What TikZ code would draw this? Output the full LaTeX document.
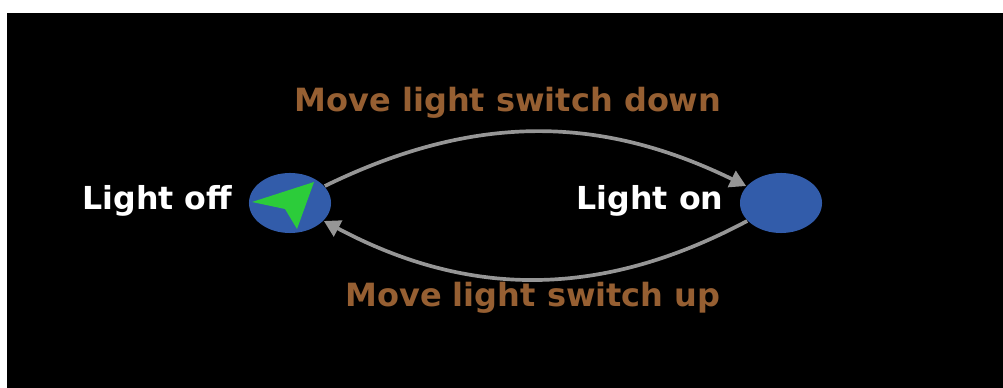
\documentclass[tikz,border=0pt]{standalone}
\usepackage{fontspec}
\setmainfont{DejaVu Sans}
\usetikzlibrary{arrows.meta,shapes.geometric}
\definecolor{statefill}{RGB}{50,92,170}
\definecolor{pointer}{RGB}{44,204,58}
\definecolor{edgegray}{RGB}{150,150,150}
\definecolor{eventtext}{RGB}{150,95,50}
\tikzset{
  lightstate/.style={ellipse, fill=statefill, minimum width=0.82cm, minimum height=0.60cm, inner sep=0pt},
  statename/.style={text=white, font=\fontsize{9}{11}\selectfont\bfseries, inner sep=0pt},
  eventname/.style={text=eventtext, font=\fontsize{9.1}{11}\selectfont\bfseries, inner sep=0pt},
  trans/.style={draw=edgegray, line width=1.05pt, -{Triangle[length=4.6pt,width=5pt]}}
}
\begin{document}
\begin{tikzpicture}[x=0.01cm, y=-0.01cm]
  \useasboundingbox (0,0) rectangle (1003,388);
  \fill[white] (0,0) rectangle (1003,388);
  \fill[black] (7,13) rectangle (1003,388);

  \node[lightstate] (off) at (290,203) {};
  \node[lightstate] (on) at (781,203) {};
  \fill[pointer] (252,202) -- (314,182) -- (297,229) -- (285,209) -- cycle;

  \node[statename, anchor=base east] (offname) at (233,210) {Light off};
  \node[statename, anchor=base east] (onname) at (724,210) {Light on};

  \draw[trans] (off) to[bend left=26] (on);
  \draw[trans] (on) to[bend left=28] (off);

  \node[eventname, anchor=base] (down) at (508,112) {Move light switch down};
  \node[eventname, anchor=base] (up) at (533,306) {Move light switch up};
\end{tikzpicture}
\end{document}
